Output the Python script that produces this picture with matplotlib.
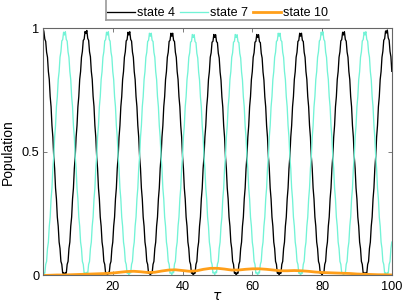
import numpy as np
import matplotlib
matplotlib.use("Agg")
from matplotlib import pyplot as plt
from matplotlib.lines import Line2D

plt.rcParams["font.family"] = ["Liberation Sans", "DejaVu Sans"]

# sample grid for the two large populations (48 samples per slow oscillation)
tau = np.linspace(0, 99.94, 391)

state4 = [
    1.000, 0.985, 0.955, 0.946, 0.902, 0.882, 0.824, 0.792, 0.723, 0.682, 0.606, 0.559,
    0.480, 0.432, 0.353, 0.309, 0.236, 0.199, 0.135, 0.109, 0.057, 0.045, 0.009, 0.012,
    0.000, 0.012, 0.009, 0.045, 0.057, 0.109, 0.135, 0.199, 0.236, 0.309, 0.353, 0.432,
    0.480, 0.559, 0.606, 0.682, 0.723, 0.792, 0.824, 0.882, 0.905, 0.950, 0.955, 0.986,
    0.978, 0.990, 0.958, 0.950, 0.904, 0.884, 0.825, 0.793, 0.724, 0.683, 0.606, 0.559,
    0.480, 0.432, 0.353, 0.309, 0.236, 0.199, 0.135, 0.109, 0.057, 0.045, 0.009, 0.012,
    0.001, 0.013, 0.009, 0.045, 0.057, 0.109, 0.135, 0.199, 0.236, 0.309, 0.353, 0.432,
    0.480, 0.559, 0.606, 0.682, 0.723, 0.792, 0.824, 0.882, 0.904, 0.948, 0.953, 0.983,
    0.972, 0.985, 0.954, 0.947, 0.903, 0.882, 0.824, 0.792, 0.723, 0.682, 0.606, 0.559,
    0.480, 0.432, 0.353, 0.309, 0.236, 0.199, 0.135, 0.109, 0.057, 0.045, 0.009, 0.012,
    0.000, 0.012, 0.009, 0.045, 0.057, 0.109, 0.135, 0.199, 0.236, 0.309, 0.353, 0.432,
    0.480, 0.559, 0.606, 0.682, 0.723, 0.792, 0.824, 0.882, 0.902, 0.946, 0.950, 0.979,
    0.967, 0.979, 0.950, 0.946, 0.902, 0.882, 0.824, 0.792, 0.723, 0.682, 0.606, 0.559,
    0.480, 0.432, 0.353, 0.309, 0.236, 0.199, 0.135, 0.109, 0.057, 0.045, 0.009, 0.012,
    0.000, 0.012, 0.009, 0.045, 0.057, 0.109, 0.135, 0.199, 0.236, 0.309, 0.353, 0.432,
    0.480, 0.559, 0.606, 0.682, 0.723, 0.792, 0.824, 0.882, 0.900, 0.943, 0.946, 0.974,
    0.962, 0.973, 0.945, 0.941, 0.898, 0.879, 0.822, 0.790, 0.722, 0.681, 0.605, 0.558,
    0.480, 0.432, 0.353, 0.309, 0.236, 0.199, 0.135, 0.109, 0.057, 0.045, 0.009, 0.012,
    0.000, 0.012, 0.009, 0.045, 0.057, 0.109, 0.135, 0.199, 0.236, 0.309, 0.353, 0.432,
    0.480, 0.559, 0.606, 0.682, 0.723, 0.792, 0.824, 0.882, 0.900, 0.943, 0.946, 0.974,
    0.962, 0.973, 0.945, 0.941, 0.898, 0.879, 0.822, 0.790, 0.722, 0.681, 0.605, 0.558,
    0.480, 0.432, 0.353, 0.309, 0.236, 0.199, 0.135, 0.109, 0.057, 0.045, 0.009, 0.012,
    0.001, 0.013, 0.009, 0.045, 0.057, 0.109, 0.135, 0.199, 0.236, 0.309, 0.353, 0.432,
    0.480, 0.559, 0.606, 0.682, 0.723, 0.792, 0.824, 0.882, 0.902, 0.946, 0.950, 0.979,
    0.967, 0.979, 0.950, 0.946, 0.902, 0.882, 0.824, 0.792, 0.723, 0.682, 0.606, 0.559,
    0.480, 0.432, 0.353, 0.309, 0.236, 0.199, 0.135, 0.109, 0.057, 0.045, 0.009, 0.012,
    0.000, 0.012, 0.009, 0.045, 0.057, 0.109, 0.135, 0.199, 0.236, 0.309, 0.353, 0.432,
    0.480, 0.559, 0.606, 0.682, 0.723, 0.792, 0.824, 0.882, 0.904, 0.948, 0.953, 0.983,
    0.972, 0.985, 0.954, 0.947, 0.903, 0.882, 0.824, 0.792, 0.723, 0.682, 0.606, 0.559,
    0.480, 0.432, 0.353, 0.309, 0.236, 0.199, 0.135, 0.109, 0.057, 0.045, 0.009, 0.012,
    0.000, 0.012, 0.009, 0.045, 0.057, 0.109, 0.135, 0.199, 0.236, 0.309, 0.353, 0.432,
    0.480, 0.559, 0.606, 0.682, 0.723, 0.792, 0.824, 0.882, 0.906, 0.951, 0.957, 0.988,
    0.980, 0.992, 0.960, 0.951, 0.905, 0.884, 0.825,
]

state7 = [
    0.000, 0.012, 0.009, 0.045, 0.057, 0.109, 0.135, 0.199, 0.236, 0.309, 0.353, 0.432,
    0.480, 0.559, 0.606, 0.682, 0.723, 0.792, 0.824, 0.882, 0.904, 0.948, 0.953, 0.983,
    0.972, 0.985, 0.954, 0.947, 0.903, 0.882, 0.824, 0.792, 0.723, 0.682, 0.606, 0.559,
    0.480, 0.432, 0.353, 0.309, 0.236, 0.199, 0.135, 0.109, 0.057, 0.045, 0.009, 0.012,
    0.001, 0.013, 0.009, 0.045, 0.057, 0.109, 0.135, 0.199, 0.236, 0.309, 0.353, 0.432,
    0.480, 0.559, 0.606, 0.682, 0.723, 0.792, 0.824, 0.882, 0.904, 0.948, 0.953, 0.983,
    0.972, 0.985, 0.954, 0.947, 0.903, 0.882, 0.824, 0.792, 0.723, 0.682, 0.606, 0.559,
    0.480, 0.432, 0.353, 0.309, 0.236, 0.199, 0.135, 0.109, 0.057, 0.045, 0.009, 0.012,
    0.002, 0.014, 0.010, 0.045, 0.057, 0.109, 0.135, 0.199, 0.236, 0.309, 0.353, 0.432,
    0.480, 0.559, 0.606, 0.682, 0.723, 0.792, 0.824, 0.882, 0.902, 0.946, 0.950, 0.979,
    0.967, 0.979, 0.950, 0.946, 0.902, 0.882, 0.824, 0.792, 0.723, 0.682, 0.606, 0.559,
    0.480, 0.432, 0.353, 0.309, 0.236, 0.199, 0.135, 0.109, 0.057, 0.045, 0.009, 0.012,
    0.003, 0.015, 0.011, 0.046, 0.057, 0.109, 0.135, 0.199, 0.236, 0.309, 0.353, 0.432,
    0.480, 0.559, 0.606, 0.682, 0.723, 0.792, 0.824, 0.882, 0.900, 0.943, 0.946, 0.974,
    0.962, 0.973, 0.945, 0.941, 0.898, 0.879, 0.822, 0.790, 0.722, 0.681, 0.605, 0.558,
    0.480, 0.432, 0.353, 0.309, 0.236, 0.199, 0.135, 0.109, 0.057, 0.045, 0.010, 0.013,
    0.003, 0.015, 0.011, 0.046, 0.057, 0.109, 0.135, 0.199, 0.236, 0.309, 0.353, 0.432,
    0.480, 0.559, 0.606, 0.682, 0.723, 0.792, 0.824, 0.882, 0.900, 0.943, 0.946, 0.974,
    0.962, 0.973, 0.945, 0.941, 0.898, 0.879, 0.822, 0.790, 0.722, 0.681, 0.605, 0.558,
    0.480, 0.432, 0.353, 0.309, 0.236, 0.199, 0.135, 0.109, 0.057, 0.045, 0.009, 0.012,
    0.002, 0.014, 0.010, 0.045, 0.057, 0.109, 0.135, 0.199, 0.236, 0.309, 0.353, 0.432,
    0.480, 0.559, 0.606, 0.682, 0.723, 0.792, 0.824, 0.882, 0.902, 0.946, 0.950, 0.979,
    0.967, 0.979, 0.950, 0.946, 0.902, 0.882, 0.824, 0.792, 0.723, 0.682, 0.606, 0.559,
    0.480, 0.432, 0.353, 0.309, 0.236, 0.199, 0.135, 0.109, 0.057, 0.045, 0.009, 0.012,
    0.001, 0.013, 0.009, 0.045, 0.057, 0.109, 0.135, 0.199, 0.236, 0.309, 0.353, 0.432,
    0.480, 0.559, 0.606, 0.682, 0.723, 0.792, 0.824, 0.882, 0.904, 0.948, 0.953, 0.983,
    0.972, 0.985, 0.954, 0.947, 0.903, 0.882, 0.824, 0.792, 0.723, 0.682, 0.606, 0.559,
    0.480, 0.432, 0.353, 0.309, 0.236, 0.199, 0.135, 0.109, 0.057, 0.045, 0.009, 0.012,
    0.000, 0.012, 0.009, 0.045, 0.057, 0.109, 0.135, 0.199, 0.236, 0.309, 0.353, 0.432,
    0.480, 0.559, 0.606, 0.682, 0.723, 0.792, 0.824, 0.882, 0.904, 0.948, 0.953, 0.983,
    0.972, 0.985, 0.954, 0.947, 0.903, 0.882, 0.824, 0.792, 0.723, 0.682, 0.606, 0.559,
    0.480, 0.432, 0.353, 0.309, 0.236, 0.199, 0.135, 0.109, 0.057, 0.045, 0.009, 0.012,
    0.000, 0.012, 0.009, 0.045, 0.057, 0.109, 0.135,
]

# small population, read every 2 units of tau
tau10 = np.arange(0, 101, 2)
state10 = [
    0.000, 0.001, 0.002, 0.002, 0.003, 0.004, 0.005, 0.006, 0.007, 0.008,
    0.010, 0.013, 0.016, 0.017, 0.015, 0.012, 0.013, 0.018, 0.022, 0.023,
    0.020, 0.017, 0.019, 0.025, 0.029, 0.029, 0.026, 0.022, 0.022, 0.025,
    0.027, 0.027, 0.025, 0.022, 0.019, 0.019, 0.020, 0.019, 0.017, 0.014,
    0.012, 0.011, 0.010, 0.009, 0.008, 0.006, 0.005, 0.004, 0.003, 0.003,
    0.002,
]

x_ticks = [20, 40, 60, 80, 100]
y_ticks = [0, 0.5, 1]
y_labels = ["0", "0.5", "1"]

fig = plt.figure(figsize=(4.07, 3.04), dpi=100)
ax = fig.add_axes([0.1057, 0.0938, 0.8575, 0.814])

ax.plot(tau, state4, color="black", linewidth=0.95, label="state 4")
ax.plot(tau, state7, color="#72f3d6", linewidth=0.95, label="state 7")
ax.plot(tau10, state10, color="#ff9f1a", linewidth=2.0, label="state 10")

ax.set_xlim(0, 100)
ax.set_ylim(0, 1)
ax.set_xticks(x_ticks)
ax.set_yticks(y_ticks)
ax.set_yticklabels(y_labels)
ax.tick_params(direction="in", length=3, width=0.6, color="#666666",
               labelsize=9.2, top=True, right=True, pad=4)
ax.tick_params(axis="y", pad=2.5)
for s in ax.spines.values():
    s.set_color("#666666")
    s.set_linewidth(0.8)

ax.set_xlabel(r"$\tau$", fontsize=10, labelpad=-3)
ax.set_ylabel("Population", fontsize=10, labelpad=5)

leg = ax.legend(loc="lower center", bbox_to_anchor=(0.5, 1.032), ncol=3,
                fontsize=9, frameon=False, handlelength=2.3,
                handletextpad=0.15, columnspacing=0.35, borderpad=0.05,
                borderaxespad=0)

# legend box: only its left and bottom edges fall inside the picture
fig.canvas.draw()
bb = leg.get_window_extent().transformed(fig.transFigure.inverted())
fig.add_artist(Line2D([bb.x0, bb.x0], [bb.y0, 1.0], color="#999999", linewidth=1.2))
fig.add_artist(Line2D([bb.x0, bb.x1], [bb.y0, bb.y0], color="#999999", linewidth=1.2))

fig.savefig("out.png", dpi=100)
